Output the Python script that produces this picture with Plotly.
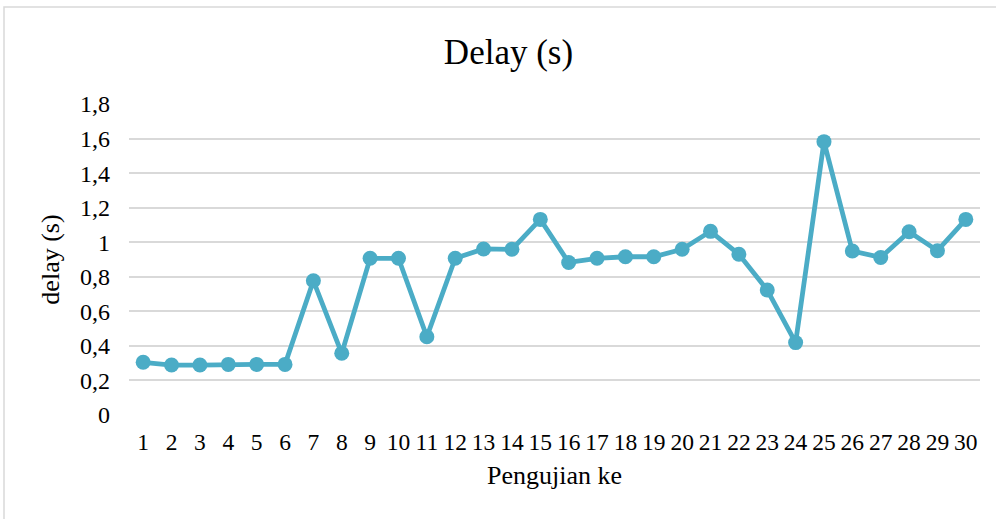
import plotly.graph_objects as go

trials = [str(i) for i in range(1, 31)]
delay = [0.305, 0.289, 0.289, 0.293, 0.293, 0.293, 0.777, 0.357, 0.907, 0.907,
         0.453, 0.907, 0.961, 0.959, 1.132, 0.883, 0.907, 0.916, 0.916, 0.959,
         1.063, 0.930, 0.723, 0.419, 1.582, 0.949, 0.912, 1.061, 0.951, 1.132]
y_ticks = [0, 0.2, 0.4, 0.6, 0.8, 1.0, 1.2, 1.4, 1.6, 1.8]
y_tick_labels = ["0", "0,2", "0,4", "0,6", "0,8", "1", "1,2", "1,4", "1,6", "1,8"]

color = "#4BACC6"
font = "'Liberation Serif', 'Times New Roman', 'DejaVu Serif', serif"

fig = go.Figure()
fig.add_trace(go.Scatter(
    x=trials, y=delay, mode="lines+markers",
    line=dict(color=color, width=4.8),
    marker=dict(color=color, size=15),
    showlegend=False,
))

W, H = 996, 519
L, R, T, B = 129, 16, 104, 104
pw, ph = W - L - R, H - T - B

def px_x(p):
    return (p - L) / pw

def px_y(p):
    return (H - B - p) / ph

fig.add_shape(type="rect", xref="paper", yref="paper",
              x0=px_x(4), x1=px_x(1010), y0=px_y(530), y1=px_y(7),
              line=dict(color="#D9D9D9", width=1.5), fillcolor="rgba(0,0,0,0)",
              layer="below")

fig.update_layout(
    width=W, height=H,
    margin=dict(l=L, r=R, t=T, b=B),
    paper_bgcolor="white", plot_bgcolor="white",
    font=dict(family=font, color="black", size=24),
    title=dict(text="Delay (s)", x=508.5 / W, xanchor="center", xref="container",
               y=1 - 52 / H, yanchor="middle",
               font=dict(family=font, size=35, color="black")),
    xaxis=dict(
        type="category", range=[-0.5, 29.5],
        tickmode="array", tickvals=trials, ticktext=trials,
        showgrid=False, zeroline=False, showline=False,
        ticks="", tickfont=dict(family=font, size=23.5, color="black"),
        ticklabelstandoff=10,
        title=dict(text="Pengujian ke",
                   font=dict(family=font, size=26, color="black"), standoff=12),
    ),
    yaxis=dict(
        range=[0, 1.8], tickvals=y_ticks, ticktext=y_tick_labels,
        showgrid=True, gridcolor="#D9D9D9", gridwidth=1.5,
        zeroline=False, showline=False, ticks="",
        ticklabelstandoff=18, tickfont=dict(family=font, size=24, color="black"),
        title=dict(text="delay (s)",
                   font=dict(family=font, size=26, color="black"), standoff=12),
    ),
)

fig.write_html("out.html", config={"displayModeBar": False},
               post_script="document.body.style.margin='0';")
